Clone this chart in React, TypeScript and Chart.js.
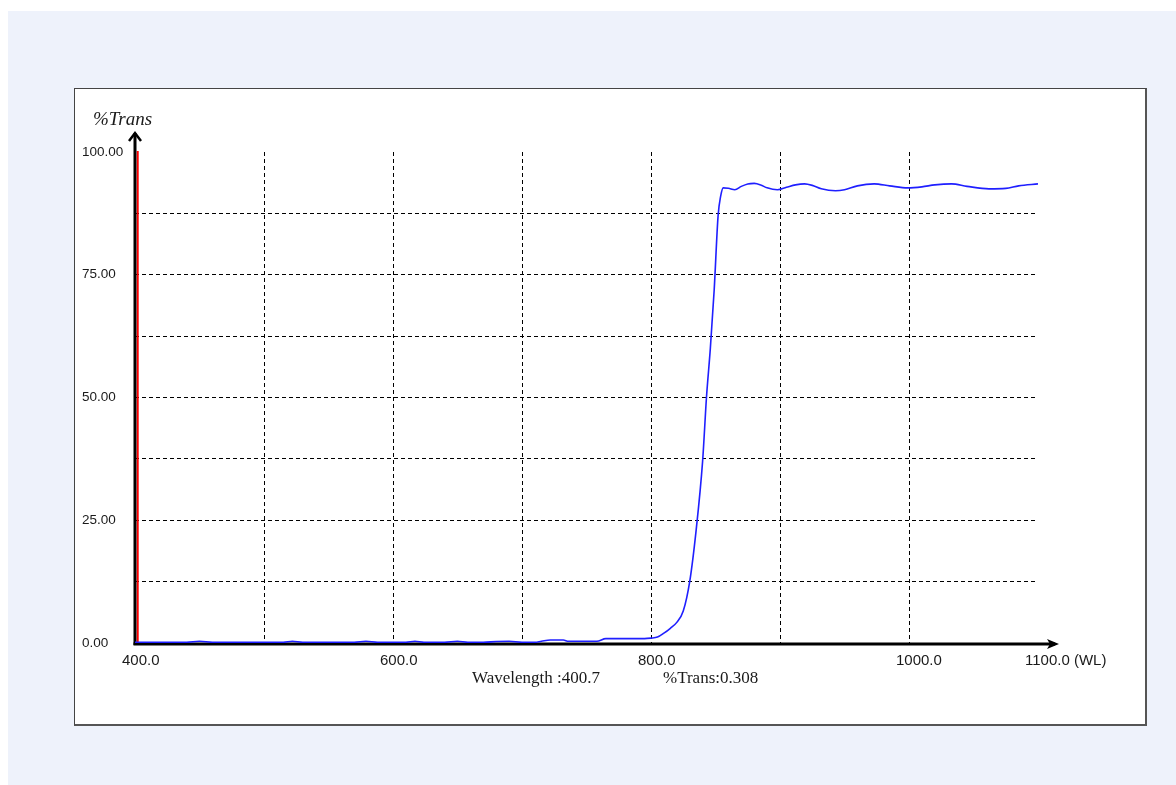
import React, { useEffect, useRef } from 'react';
import { Chart, registerables } from 'chart.js';

Chart.register(...registerables);

// ---- data ----
const wavelengths = [
  400, 420, 440, 450, 460, 480, 500, 515, 522, 530, 550, 570, 579, 588, 600, 610, 617, 624, 640,
  650, 658, 670, 680, 690, 700, 710, 715, 722, 732, 736, 750, 758, 765, 780, 795, 800, 805, 810,
  815, 820, 825, 830, 835, 840, 843, 846, 849, 852, 854, 856, 860, 865, 870, 875, 880, 885, 890,
  898, 905, 912, 919, 925, 932, 943, 950, 960, 973, 985, 999, 1010, 1020, 1033, 1045, 1062, 1075,
  1085, 1100,
];
const transmission = [
  0.15, 0.15, 0.15, 0.35, 0.15, 0.15, 0.15, 0.15, 0.35, 0.15, 0.15, 0.15, 0.35, 0.15, 0.15, 0.15, 0.35, 0.15, 0.15,
  0.35, 0.15, 0.15, 0.3, 0.35, 0.15, 0.15, 0.35, 0.6, 0.6, 0.35, 0.35, 0.35, 0.9, 0.9, 0.9, 1.0, 1.2, 2.0,
  3.0, 4.2, 6.5, 12.5, 23, 37, 50, 60, 72, 87, 91, 92.7, 92.6, 92.3, 93.0, 93.5, 93.6, 93.3, 92.7,
  92.3, 92.8, 93.3, 93.5, 93.2, 92.5, 92.1, 92.3, 93.1, 93.5, 93.1, 92.7, 92.9, 93.3, 93.5, 93.0, 92.5, 92.6,
  93.1, 93.5,
];
const xTickLabels: Record<number, string> = {
  400: '400.0',
  600: '600.0',
  800: '800.0',
  1000: '1000.0',
  1100: '1100.0 (WL)',
};
const yLabelValues = [0, 25, 50, 75, 100];
const xMin = 400;
const xMax = 1100;
const yMin = 0;
const yMax = 100;
const cursorWavelength = 400.7;
const cursorTrans = 0.308;
const yAxisTitle = '%Trans';

const decorPlugin = {
  id: 'decor',
  beforeDatasetsDraw(chart: any) {
    const { ctx, chartArea, scales } = chart;
    const xs = scales.x;
    const ys = scales.y;
    const x0 = xs.getPixelForValue(xMin);
    const y0 = ys.getPixelForValue(yMin);
    const yTop = ys.getPixelForValue(yMax);
    ctx.save();
    // red cursor line
    const cx = xs.getPixelForValue(cursorWavelength) + 1.8;
    ctx.strokeStyle = '#ff0000';
    ctx.lineWidth = 2;
    ctx.beginPath();
    ctx.moveTo(cx, yTop - 1);
    ctx.lineTo(cx, y0);
    ctx.stroke();
    // y axis
    ctx.strokeStyle = '#000';
    ctx.lineWidth = 3;
    const tipY = chartArea.top - 20;
    ctx.beginPath();
    ctx.moveTo(x0, y0 + 2);
    ctx.lineTo(x0, tipY + 1);
    ctx.stroke();
    ctx.lineWidth = 2.5;
    ctx.beginPath();
    ctx.moveTo(x0 - 6, tipY + 9);
    ctx.lineTo(x0, tipY + 1);
    ctx.lineTo(x0 + 6, tipY + 9);
    ctx.stroke();
    // x axis
    const tipX = chartArea.right + 21;
    ctx.lineWidth = 3;
    ctx.beginPath();
    ctx.moveTo(x0 - 1.5, y0 + 1);
    ctx.lineTo(tipX - 4, y0 + 1);
    ctx.stroke();
    ctx.fillStyle = '#000';
    ctx.beginPath();
    ctx.moveTo(tipX, y0 + 1);
    ctx.lineTo(tipX - 12, y0 - 4);
    ctx.lineTo(tipX - 9, y0 + 1);
    ctx.lineTo(tipX - 12, y0 + 6);
    ctx.closePath();
    ctx.fill();
    ctx.restore();
  },
  afterDraw(chart: any) {
    const { ctx, chartArea, scales } = chart;
    const y0 = scales.y.getPixelForValue(yMin);
    ctx.save();
    ctx.fillStyle = '#1a1a1a';
    ctx.textBaseline = 'middle';
    ctx.textAlign = 'left';
    ctx.font = 'italic 19px "Liberation Serif", "Times New Roman", serif';
    ctx.fillText(yAxisTitle, chartArea.left - 42, chartArea.top - 32);
    ctx.font = '17px "Liberation Serif", "Times New Roman", serif';
    ctx.fillText('Wavelength :' + cursorWavelength.toFixed(1), chartArea.left + 337, y0 + 36);
    ctx.fillText(yAxisTitle + ':' + cursorTrans.toFixed(3), chartArea.left + 528, y0 + 36);
    ctx.restore();
  },
};

function ChartView() {
  const ref = useRef<HTMLCanvasElement | null>(null);
  useEffect(() => {
    if (!ref.current) return;
    const points = wavelengths.map((w, i) => ({ x: w, y: transmission[i] }));
    const dash = [4, 3];
    const chart = new Chart(ref.current, {
      type: 'line',
      data: {
        datasets: [
          {
            data: points,
            borderColor: '#1f1fff',
            borderWidth: 1.6,
            pointRadius: 0,
            cubicInterpolationMode: 'monotone',
            fill: false,
          },
        ],
      },
      options: {
        animation: false,
        responsive: false,
        devicePixelRatio: 1,
        layout: { padding: { left: 7, top: 63, right: 107, bottom: 0 } },
        plugins: { legend: { display: false }, tooltip: { enabled: false } },
        scales: {
          x: {
            type: 'linear',
            min: xMin,
            max: xMax,
            afterFit: (s: any) => {
              s.height = 81;
            },
            border: { display: false, dash },
            grid: {
              drawTicks: false,
              lineWidth: 1,
              color: (c: any) =>
                c.tick && (c.tick.value === xMin || c.tick.value === xMax) ? 'rgba(0,0,0,0)' : '#000',
            },
            ticks: {
              stepSize: 100,
              autoSkip: false,
              maxRotation: 0,
              align: 'start',
              labelOffset: -13,
              padding: 9,
              color: '#1a1a1a',
              font: { family: '"Liberation Sans", Arial, sans-serif', size: 15 },
              callback: (v: any) => xTickLabels[Number(v)] ?? '',
            },
          },
          y: {
            type: 'linear',
            min: yMin,
            max: yMax,
            afterFit: (s: any) => {
              s.width = 53;
            },
            border: { display: false, dash },
            grid: {
              drawTicks: false,
              lineWidth: 1,
              color: (c: any) =>
                c.tick && (c.tick.value === yMin || c.tick.value === yMax) ? 'rgba(0,0,0,0)' : '#000',
            },
            ticks: {
              stepSize: 12.5,
              autoSkip: false,
              crossAlign: 'far',
              color: '#1a1a1a',
              font: { family: '"Liberation Sans", Arial, sans-serif', size: 13.5 },
              callback: (v: any) => (yLabelValues.includes(Number(v)) ? Number(v).toFixed(2) : ''),
            },
          },
        },
      },
      plugins: [decorPlugin],
    } as any);
    return () => chart.destroy();
  }, []);
  return <canvas ref={ref} width={1070} height={635} style={{ display: 'block', width: 1070, height: 635 }} />;
}

export default function App() {
  return (
    <div
      style={{
        position: 'absolute',
        left: 8,
        top: 11,
        width: 1168,
        height: 774,
        background: '#eef2fb',
      }}
    >
      <div
        style={{
          position: 'absolute',
          left: 66,
          top: 77,
          width: 1070,
          height: 635,
          background: '#ffffff',
          borderLeft: '1px solid #444',
          borderTop: '1px solid #444',
          borderRight: '2px solid #555',
          borderBottom: '2px solid #555',
        }}
      >
        <ChartView />
      </div>
    </div>
  );
}
